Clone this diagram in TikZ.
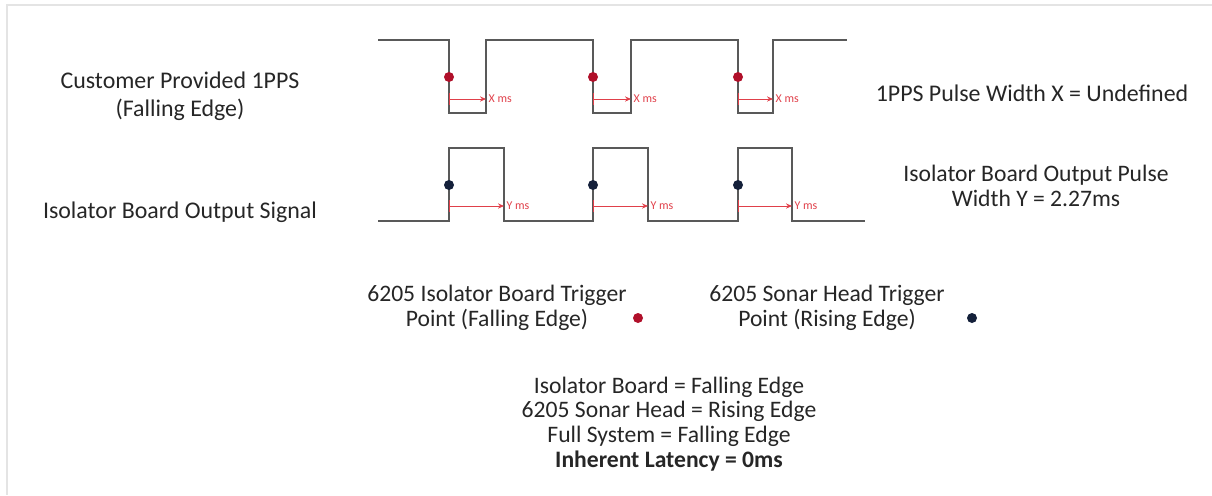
\documentclass[tikz,border=0pt]{standalone}
\usepackage{fontspec}
\setmainfont{Carlito}
\usetikzlibrary{arrows.meta, positioning}
\definecolor{wave}{HTML}{595959}
\definecolor{trig}{HTML}{B0102A}
\definecolor{meas}{HTML}{E0404A}
\definecolor{head}{HTML}{14203A}
\definecolor{frame}{HTML}{E4E4E4}

\begin{document}
\begin{tikzpicture}[x=0.025cm, y=-0.025cm,
    sig/.style={wave, line width=1.1pt, line join=miter},
    dot/.style={circle, inner sep=0pt, minimum size=2.5mm},
    span/.style={meas, line width=0.7pt, -{Stealth[length=1.5mm, width=1.3mm]}},
    tick/.style={meas, line width=0.7pt},
    msl/.style={right, inner sep=1.5pt, meas, font=\fontsize{8.5}{9}\selectfont},
    lbl/.style={align=center, text=black!85, font=\fontsize{17}{20}\selectfont},
    key/.style={align=center, text=black!85, font=\fontsize{16.8}{17.7}\selectfont}]
  \useasboundingbox (0,0) rectangle (1212,495);
  \draw[frame, line width=1.4pt] (7,495) -- (7,5) -- (1212,5);
  % customer 1PPS (falling edge) and isolator output (rising edge)
  \draw[sig] (378,40) -- (449,40) |- (486,113) |- (593,40) |- (631,113)
    |- (738,40) |- (773,113) |- (847,40);
  \draw[sig] (378,221) -- (449,221) |- (504,148) |- (593,221) |- (648,148)
    |- (738,221) |- (792,148) |- (865,221);
  \foreach \f/\r/\s in {449/486/504, 593/631/648, 738/773/792} {
    \node[dot, fill=trig] (fall\f) at (\f,77) {};
    \node[dot, fill=head] (rise\f) at (\f,185) {};
    \coordinate (xa\f) at (\f,99);
    \coordinate (xb\f) at (\r,99);
    \coordinate (ya\f) at (\f,206);
    \coordinate (yb\f) at (\s,206);
    \draw[tick] (\f,93) -- (\f,105);
    \draw[tick] (\f,200) -- (\f,212);
    \draw[span] (xa\f) -- (xb\f) node[msl]{X ms};
    \draw[span] (ya\f) -- (yb\f) node[msl]{Y ms};
  }
  % signal names and widths
  \node[lbl] (cust) at (180,96) {Customer Provided 1PPS\\(Falling Edge)};
  \node[lbl] (isosig) at (180,212) {Isolator Board Output Signal};
  \node[lbl] (xwidth) at (1032,93) {1PPS Pulse Width X = Undefined};
  \node[key] (ywidth) at (1036,186) {Isolator Board Output Pulse\\Width Y = 2.27ms};
  % legend for trigger points
  \node[key] (isotrig) at (497,308) {6205 Isolator Board Trigger\\Point (Falling Edge)};
  \node[dot, fill=trig] (isodot) at (638,318) {};
  \node[key] (sonartrig) at (827,308) {6205 Sonar Head Trigger\\Point (Rising Edge)};
  \node[dot, fill=head] (sonardot) at (972,318) {};
  \node[key] (summary) at (669,424) {Isolator Board = Falling Edge\\
    6205 Sonar Head = Rising Edge\\Full System = Falling Edge\\
    \textbf{Inherent Latency = 0ms}};
\end{tikzpicture}
\end{document}
